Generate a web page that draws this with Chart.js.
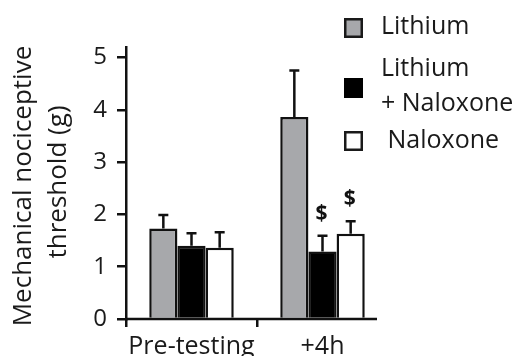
<!DOCTYPE html>
<html>
<head>
<meta charset="utf-8">
<script src="https://cdn.jsdelivr.net/npm/chart.js@4"></script>
<style>
html,body{margin:0;padding:0;background:#fff;}
canvas{display:block;}
</style>
</head>
<body>
<canvas id="c" width="517" height="356"></canvas>
<script>
const categories = ['Pre-testing', '+4h'];
const lithium = [1.73, 3.86];
const lithiumErr = [0.26, 0.89];
const lithNal = [1.40, 1.29];
const lithNalErr = [0.24, 0.30];
const naloxone = [1.36, 1.63];
const naloxoneErr = [0.30, 0.24];
const lithNalMarks = ['', '$'];
const naloxoneMarks = ['', '$'];
const yTicks = [0, 1, 2, 3, 4, 5];
const yMax = 5.2;
const yTitle = ['Mechanical nociceptive', 'threshold (g)'];
const legendLabels = [['Lithium'], ['Lithium', '+ Naloxone'], [' Naloxone']];

const GRAY = '#a7a8ab';
const INK = '#111';
const TXT = '#1a1a1a';
const FONT = '"Open Sans", sans-serif';

const errs = [lithiumErr, lithNalErr, naloxoneErr];
const marks = [null, lithNalMarks, naloxoneMarks];

const extras = {
  id: 'extras',
  afterDatasetsDraw(chart) {
    const ctx = chart.ctx;
    const y = chart.scales.y;
    const x = chart.scales.x;
    ctx.save();
    chart.data.datasets.forEach((ds, di) => {
      const meta = chart.getDatasetMeta(di);
      meta.data.forEach((bar, i) => {
        const v = ds.data[i];
        const top = y.getPixelForValue(v + errs[di][i]);
        const base = y.getPixelForValue(v);
        ctx.strokeStyle = INK;
        ctx.lineWidth = 2.5;
        ctx.beginPath();
        ctx.moveTo(bar.x, base);
        ctx.lineTo(bar.x, top);
        ctx.moveTo(bar.x - 5, top);
        ctx.lineTo(bar.x + 5, top);
        ctx.stroke();
        if (marks[di] && marks[di][i]) {
          ctx.fillStyle = INK;
          ctx.font = 'bold 21px ' + FONT;
          ctx.textAlign = 'center';
          ctx.textBaseline = 'middle';
          ctx.fillText(marks[di][i], bar.x - 1, top - 22);
        }
      });
    });
    ctx.strokeStyle = INK;
    ctx.lineWidth = 2.5;
    ctx.beginPath();
    ctx.moveTo(x.left - 1, y.bottom);
    ctx.lineTo(x.right - 11, y.bottom);
    ctx.stroke();
    ctx.restore();
  },
  afterDraw(chart) {
    const ctx = chart.ctx;
    ctx.save();
    ctx.fillStyle = TXT;
    ctx.font = '26px ' + FONT;
    ctx.textAlign = 'center';
    ctx.textBaseline = 'middle';
    const centers = [[24, 186], [59, 182]];
    yTitle.forEach((t, k) => {
      ctx.save();
      ctx.translate(centers[k][0], centers[k][1]);
      ctx.rotate(-Math.PI / 2);
      ctx.fillText(t, 0, 0);
      ctx.restore();
    });
    const fills = chart.data.datasets.map(d => d.backgroundColor);
    const boxes = [[344, 18], [344, 78], [344, 131]];
    const textPos = [[[381, 27]], [[381, 69], [381, 104]], [[381, 141]]];
    legendLabels.forEach((lines, k) => {
      ctx.fillStyle = fills[k];
      ctx.fillRect(boxes[k][0], boxes[k][1], 19, 20);
      if (fills[k] !== '#000') {
        ctx.strokeStyle = '#1a1a1a';
        ctx.lineWidth = 2.5;
        ctx.strokeRect(boxes[k][0] + 1.25, boxes[k][1] + 1.25, 16.5, 17.5);
      }
      ctx.fillStyle = TXT;
      ctx.font = '25px ' + FONT;
      ctx.textAlign = 'left';
      ctx.textBaseline = 'middle';
      lines.forEach((ln, j) => {
        ctx.fillText(ln, textPos[k][j][0], textPos[k][j][1]);
      });
    });
    ctx.restore();
  }
};

new Chart(document.getElementById('c'), {
  type: 'bar',
  data: {
    labels: categories,
    datasets: [
      { label: 'Lithium', data: lithium, backgroundColor: GRAY, borderColor: INK, borderWidth: 2.5 },
      { label: 'Lithium + Naloxone', data: lithNal, backgroundColor: '#000', borderColor: INK, borderWidth: 2.5 },
      { label: 'Naloxone', data: naloxone, backgroundColor: '#fff', borderColor: INK, borderWidth: 2.5 }
    ]
  },
  options: {
    responsive: false,
    animation: false,
    devicePixelRatio: 1,
    layout: { padding: { top: 47, right: 129, left: 0, bottom: 0 } },
    plugins: { legend: { display: false }, tooltip: { enabled: false } },
    datasets: { bar: { categoryPercentage: 0.645, barPercentage: 1.0 } },
    scales: {
      x: {
        grid: {
          offset: true,
          drawOnChartArea: false,
          drawTicks: true,
          tickLength: 8,
          lineWidth: 2.5,
          color: c => (c.index === undefined || c.index > 1) ? 'rgba(0,0,0,0)' : INK
        },
        border: { display: false },
        ticks: { color: TXT, font: { family: FONT, size: 25 }, padding: 5, maxRotation: 0 },
        afterFit(s) { s.height = 37; }
      },
      y: {
        min: 0,
        max: yMax,
        afterBuildTicks(s) { s.ticks = yTicks.map(v => ({ value: v })); },
        grid: { drawOnChartArea: false, drawTicks: true, tickLength: 9, lineWidth: 2.5, color: INK },
        border: { display: true, color: INK, width: 2.5 },
        ticks: { color: TXT, font: { family: FONT, size: 24 }, padding: 10 },
        afterFit(s) { s.width = 126; }
      }
    }
  },
  plugins: [extras]
});
</script>
</body>
</html>
